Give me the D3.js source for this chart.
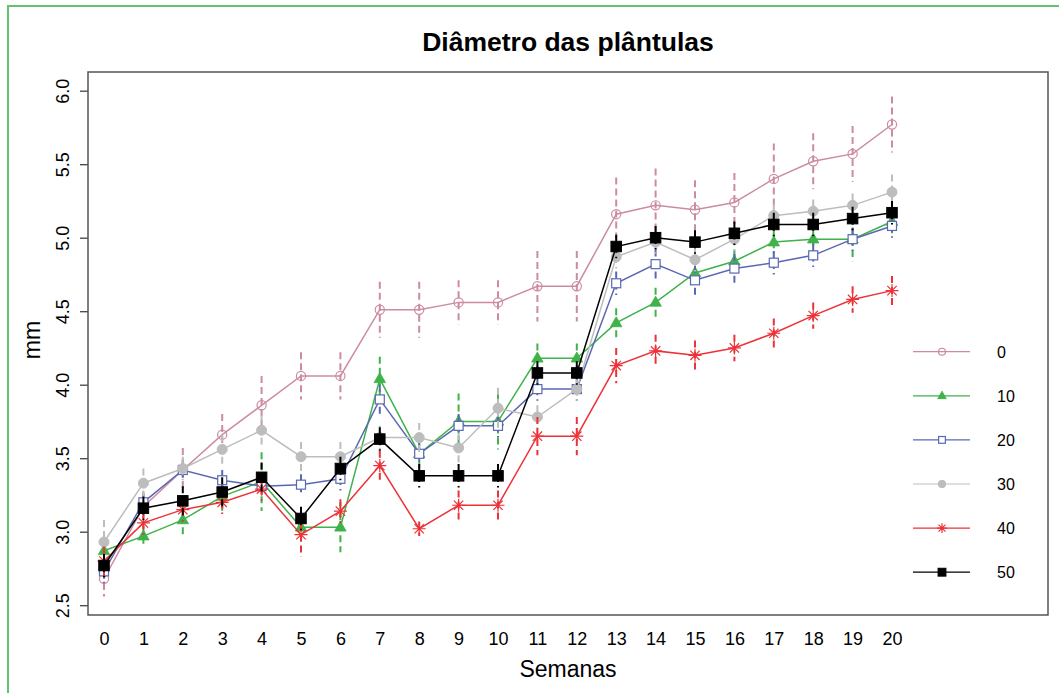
<!DOCTYPE html>
<html>
<head>
<meta charset="utf-8">
<script src="https://cdn.jsdelivr.net/npm/d3@7"></script>
<style>
  html, body { margin: 0; padding: 0; background: #ffffff; }
  svg { display: block; font-family: "Liberation Sans", Arial, sans-serif; }
</style>
</head>
<body>
<svg id="chart" width="1059" height="693"></svg>
<script>
// Weeks after sowing
const weeks = [0, 1, 2, 3, 4, 5, 6, 7, 8, 9, 10, 11, 12, 13, 14, 15, 16, 17, 18, 19, 20];
const yTicks = [2.5, 3.0, 3.5, 4.0, 4.5, 5.0, 5.5, 6.0];
const treatments = ["0", "10", "20", "30", "40", "50"];

// Mean seedling diameter (mm) per treatment
const mean0  = [2.68, 3.17, 3.42, 3.66, 3.86, 4.06, 4.06, 4.51, 4.51, 4.56, 4.56, 4.67, 4.67, 5.16, 5.22, 5.19, 5.24, 5.40, 5.52, 5.57, 5.77];
const mean10 = [2.87, 2.97, 3.08, 3.24, 3.34, 3.03, 3.03, 4.04, 3.53, 3.75, 3.75, 4.18, 4.18, 4.42, 4.56, 4.76, 4.84, 4.97, 4.99, 4.99, 5.11];
const mean20 = [2.73, 3.20, 3.42, 3.35, 3.31, 3.32, 3.36, 3.90, 3.53, 3.72, 3.72, 3.97, 3.97, 4.69, 4.82, 4.71, 4.79, 4.83, 4.88, 4.99, 5.08];
const mean30 = [2.93, 3.33, 3.43, 3.56, 3.69, 3.51, 3.51, 3.64, 3.64, 3.57, 3.84, 3.78, 3.97, 4.87, 4.97, 4.85, 4.99, 5.15, 5.18, 5.22, 5.31];
const mean40 = [2.80, 3.06, 3.15, 3.20, 3.29, 2.98, 3.14, 3.45, 3.02, 3.18, 3.18, 3.65, 3.65, 4.13, 4.23, 4.20, 4.25, 4.35, 4.47, 4.58, 4.64];
const mean50 = [2.77, 3.16, 3.21, 3.27, 3.37, 3.09, 3.43, 3.63, 3.38, 3.38, 3.38, 4.08, 4.08, 4.94, 5.00, 4.97, 5.03, 5.09, 5.09, 5.13, 5.17];

// Standard errors (half length of the dashed bars)
const se0  = [0.12, 0.10, 0.15, 0.14, 0.20, 0.16, 0.16, 0.19, 0.19, 0.15, 0.15, 0.24, 0.24, 0.25, 0.25, 0.20, 0.20, 0.24, 0.19, 0.19, 0.19];
const se10 = [0.08, 0.07, 0.10, 0.10, 0.20, 0.10, 0.17, 0.15, 0.10, 0.19, 0.19, 0.10, 0.10, 0.10, 0.10, 0.08, 0.08, 0.08, 0.08, 0.15, 0.08];
const se20 = [0.08, 0.06, 0.07, 0.07, 0.07, 0.07, 0.08, 0.10, 0.07, 0.08, 0.08, 0.08, 0.08, 0.08, 0.10, 0.10, 0.10, 0.08, 0.08, 0.08, 0.08];
const se30 = [0.15, 0.10, 0.08, 0.10, 0.10, 0.10, 0.10, 0.08, 0.10, 0.10, 0.14, 0.08, 0.08, 0.08, 0.08, 0.08, 0.08, 0.08, 0.08, 0.08, 0.12];
const se40 = [0.10, 0.08, 0.08, 0.08, 0.08, 0.15, 0.08, 0.10, 0.05, 0.10, 0.10, 0.13, 0.13, 0.12, 0.11, 0.10, 0.09, 0.10, 0.09, 0.09, 0.10];
const se50 = [0.08, 0.08, 0.10, 0.10, 0.10, 0.08, 0.08, 0.08, 0.08, 0.08, 0.08, 0.08, 0.08, 0.08, 0.08, 0.08, 0.08, 0.08, 0.08, 0.08, 0.08];

const colors  = ["#cc8c9e", "#3fb24a", "#5a68b4", "#bdbdbd", "#ec3238", "#000000"];
const symbols = ["circleOpen", "triangle", "squareOpen", "circle", "asterisk", "square"];

const means = [mean0, mean10, mean20, mean30, mean40, mean50];
const ses   = [se0, se10, se20, se30, se40, se50];

const svg = d3.select("#chart");

// Green frame
svg.append("rect")
  .attr("x", 8).attr("y", 6).attr("width", 1080).attr("height", 720)
  .attr("fill", "none").attr("stroke", "#62c26e").attr("stroke-width", 2);

const box = { left: 88, right: 1048, top: 72, bottom: 615 };

const x = d3.scaleLinear().domain([0, 20]).range([104, 892]);
const y = d3.scaleLinear().domain([2.5, 6.0]).range([605.2, 90.7]);

// Y axis
const yAxis = svg.append("g")
  .attr("transform", `translate(${box.left},0)`)
  .call(d3.axisLeft(y).tickValues(yTicks).tickSize(8).tickFormat(d3.format(".1f")));
yAxis.select(".domain").remove();
yAxis.selectAll(".tick line").attr("stroke", "#444").attr("stroke-width", 1.3);
yAxis.selectAll(".tick text")
  .attr("x", null).attr("dy", null)
  .attr("text-anchor", "middle")
  .attr("transform", "translate(-25,0) rotate(-90) translate(0,6)")
  .attr("font-size", 18).attr("fill", "#000")
  .style("font-family", "'Liberation Sans', Arial, sans-serif");

// X axis: labels only
const xAxis = svg.append("g")
  .attr("transform", `translate(0,${box.bottom})`)
  .call(d3.axisBottom(x).tickValues(weeks).tickSize(0).tickFormat(d3.format("d")));
xAxis.select(".domain").remove();
xAxis.selectAll(".tick text")
  .attr("y", 30).attr("dy", null)
  .attr("font-size", 18).attr("fill", "#000")
  .style("font-family", "'Liberation Sans', Arial, sans-serif");

// Plot frame
svg.append("rect")
  .attr("x", box.left).attr("y", box.top)
  .attr("width", box.right - box.left).attr("height", box.bottom - box.top)
  .attr("fill", "none").attr("stroke", "#555").attr("stroke-width", 1.5);

// Titles
svg.append("text")
  .attr("x", 568).attr("y", 51).attr("text-anchor", "middle")
  .attr("font-size", 26.5).attr("font-weight", "bold").attr("fill", "#000")
  .text("Diâmetro das plântulas");
svg.append("text")
  .attr("x", 568).attr("y", 677).attr("text-anchor", "middle")
  .attr("font-size", 23).attr("fill", "#000")
  .text("Semanas");
svg.append("text")
  .attr("transform", "translate(40,340) rotate(-90)")
  .attr("text-anchor", "middle")
  .attr("font-size", 23).attr("fill", "#000")
  .text("mm");

// Marker drawing
function drawMarker(g, kind, color, cx, cy, scale) {
  const s = scale || 1;
  if (kind === "circleOpen") {
    g.append("circle").attr("cx", cx).attr("cy", cy).attr("r", 4.6 * s)
      .attr("fill", "none").attr("stroke", color).attr("stroke-width", 1.2);
  } else if (kind === "circle") {
    g.append("circle").attr("cx", cx).attr("cy", cy).attr("r", 5 * s)
      .attr("fill", color).attr("stroke", color).attr("stroke-width", 1);
  } else if (kind === "triangle") {
    const h = 10 * s, w = 11.5 * s;
    g.append("path")
      .attr("d", `M${cx},${cy - h * 0.62}L${cx + w / 2},${cy + h * 0.38}L${cx - w / 2},${cy + h * 0.38}Z`)
      .attr("fill", color).attr("stroke", color).attr("stroke-width", 0.8);
  } else if (kind === "squareOpen") {
    const a = 9 * s;
    g.append("rect").attr("x", cx - a / 2).attr("y", cy - a / 2).attr("width", a).attr("height", a)
      .attr("fill", "#fff").attr("stroke", color).attr("stroke-width", 1.2);
  } else if (kind === "square") {
    const a = 10.5 * s;
    g.append("rect").attr("x", cx - a / 2).attr("y", cy - a / 2).attr("width", a).attr("height", a)
      .attr("fill", color).attr("stroke", color).attr("stroke-width", 1);
  } else if (kind === "asterisk") {
    const r = 6.5 * s, d = r * 0.72;
    g.append("path")
      .attr("d", `M${cx},${cy - r}V${cy + r}M${cx - r},${cy}H${cx + r}` +
                 `M${cx - d},${cy - d}L${cx + d},${cy + d}M${cx - d},${cy + d}L${cx + d},${cy - d}`)
      .attr("fill", "none").attr("stroke", color).attr("stroke-width", 1.2);
  }
}

const line = d3.line().x((d, i) => x(weeks[i])).y(d => y(d));

treatments.forEach((t, k) => {
  const g = svg.append("g").attr("class", "series-" + t);
  const m = means[k], e = ses[k], c = colors[k];
  // dashed standard-error bars
  g.selectAll("line.err").data(m).join("line")
    .attr("class", "err")
    .attr("x1", (d, i) => x(weeks[i])).attr("x2", (d, i) => x(weeks[i]))
    .attr("y1", (d, i) => y(d + e[i])).attr("y2", (d, i) => y(d - e[i]))
    .attr("stroke", c).attr("stroke-width", 2).attr("stroke-dasharray", "7,4");
  // mean line
  g.append("path").datum(m).attr("d", line)
    .attr("fill", "none").attr("stroke", c).attr("stroke-width", 1.5);
  // markers
  m.forEach((d, i) => drawMarker(g, symbols[k], c, x(weeks[i]), y(d)));
});

// Legend
const legend = svg.append("g").attr("class", "legend");
treatments.forEach((t, k) => {
  const ly = 351.7 + k * 44.1;
  legend.append("line").attr("x1", 913).attr("x2", 970).attr("y1", ly).attr("y2", ly)
    .attr("stroke", colors[k]).attr("stroke-width", 1.2);
  drawMarker(legend, symbols[k], colors[k], 942, ly, 0.75);
  legend.append("text").attr("x", 997).attr("y", ly + 6)
    .attr("font-size", 16).attr("fill", "#000").text(t);
});
</script>
</body>
</html>
